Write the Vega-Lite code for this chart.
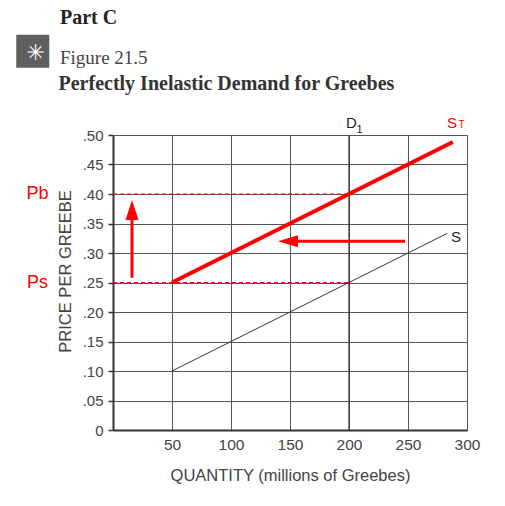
{
  "$schema": "https://vega.github.io/schema/vega-lite/v6.json",
  "width": 354,
  "height": 295,
  "autosize": {"type": "none"},
  "padding": {"left": 113, "top": 135, "right": 38, "bottom": 76},
  "background": "white",
  "title": {
    "text": "Part C",
    "subtitle": "Figure 21.5",
    "anchor": "start",
    "frame": "group",
    "orient": "top",
    "font": "Liberation Serif",
    "fontSize": 20,
    "fontWeight": "bold",
    "color": "#222222",
    "subtitleFont": "Liberation Serif",
    "subtitleFontSize": 19,
    "subtitleFontWeight": "normal",
    "subtitleColor": "#444444",
    "subtitlePadding": 21,
    "offset": -33,
    "dx": -53
  },
  "datasets": {
    "curves": [
      {"series": "S", "q": 50, "p": 0.10},
      {"series": "S", "q": 283, "p": 0.333},
      {"series": "ST", "q": 50, "p": 0.25},
      {"series": "ST", "q": 288, "p": 0.488}
    ],
    "demand": [{"q": 200}],
    "prices": [
      {"name": "Pb", "q": 0, "q2": 200, "p": 0.40},
      {"name": "Ps", "q": 0, "q2": 200, "p": 0.25}
    ],
    "arrows": [
      {"dir": "left", "q": 247.5, "q2": 152, "p": 0.32, "p2": 0.32},
      {"dir": "up", "q": 16.1, "q2": 16.1, "p": 0.258, "p2": 0.36}
    ],
    "heads": [
      {"dir": "left", "q": 148.3, "p": 0.32},
      {"dir": "up", "q": 16.1, "p": 0.373}
    ],
    "labels": [
      {"text": "D", "q": 202, "p": 0.512, "kind": "black"},
      {"text": "1", "q": 209, "p": 0.5034, "kind": "blackSub"},
      {"text": "S", "q": 290.7, "p": 0.3186, "kind": "black"},
      {"text": "S", "q": 287.3, "p": 0.512, "kind": "red"},
      {"text": "T", "q": 295.3, "p": 0.512, "kind": "redSub"},
      {"text": "Pb", "q": -64, "p": 0.40, "kind": "redBig"},
      {"text": "Ps", "q": -64, "p": 0.25, "kind": "redBig"}
    ],
    "icon": [{"q": -68, "p": 0.642}]
  },
  "resolve": {"axis": {"x": "independent"}},
  "layer": [
    {
      "data": {"name": "curves"},
      "transform": [{"filter": "datum.series == 'S'"}],
      "mark": {"type": "line", "color": "#333333", "strokeWidth": 1},
      "encoding": {
        "x": {
          "field": "q", "type": "quantitative",
          "scale": {"domain": [0, 300], "nice": false, "zero": false},
          "axis": {
            "orient": "bottom",
            "title": "QUANTITY (millions of Greebes)",
            "values": [0, 50, 100, 150, 200, 250, 300],
            "tickCount": 7,
            "labelExpr": "datum.value == 0 ? '' : datum.label",
            "grid": true,
            "ticks": false,
            "labelPadding": 7,
            "labelFontSize": 15.5,
            "titleFontSize": 16.5,
            "titlePadding": 15
          }
        },
        "y": {
          "field": "p", "type": "quantitative",
          "scale": {"domain": [0, 0.5], "nice": false, "zero": false},
          "axis": {
            "title": "PRICE PER GREEBE",
            "values": [0, 0.05, 0.1, 0.15, 0.2, 0.25, 0.3, 0.35, 0.4, 0.45, 0.5],
            "tickCount": 11,
            "labelExpr": "datum.value == 0 ? '0' : replace(format(datum.value, '.2f'), '0.', '.')",
            "grid": true,
            "ticks": true,
            "tickSize": 5,
            "labelPadding": 5,
            "labelFontSize": 15,
            "titleFontSize": 16.5,
            "titlePadding": 9,
            "titleY": 136
          }
        }
      }
    },
    {
      "data": {"name": "demand"},
      "mark": {"type": "rule", "color": "#333333", "strokeWidth": 1.2},
      "encoding": {
        "x": {
          "field": "q", "type": "quantitative",
          "axis": {
            "orient": "top",
            "title": "Perfectly Inelastic Demand for Greebes",
            "labels": false,
            "ticks": false,
            "domain": false,
            "grid": false,
            "titleFont": "Liberation Serif",
            "titleFontSize": 20,
            "titleFontWeight": "bold",
            "titleColor": "#333333",
            "titleAnchor": "start",
            "titleAlign": "left",
            "titleBaseline": "alphabetic",
            "titleX": -55,
            "titleY": -46
          }
        }
      }
    },
    {
      "data": {"name": "prices"},
      "mark": {"type": "rule", "color": "#ff0000", "strokeWidth": 1, "strokeDash": [4, 3]},
      "encoding": {
        "x": {"field": "q", "type": "quantitative", "axis": null},
        "x2": {"field": "q2"},
        "y": {"field": "p", "type": "quantitative"}
      }
    },
    {
      "data": {"name": "curves"},
      "transform": [{"filter": "datum.series == 'ST'"}],
      "mark": {"type": "line", "color": "#ff0000", "strokeWidth": 4, "strokeCap": "butt"},
      "encoding": {
        "x": {"field": "q", "type": "quantitative", "axis": null},
        "y": {"field": "p", "type": "quantitative"}
      }
    },
    {
      "data": {"name": "arrows"},
      "mark": {"type": "rule", "color": "#ff0000", "strokeWidth": 3},
      "encoding": {
        "x": {"field": "q", "type": "quantitative", "axis": null},
        "x2": {"field": "q2"},
        "y": {"field": "p", "type": "quantitative"},
        "y2": {"field": "p2"}
      }
    },
    {
      "data": {"name": "heads"},
      "transform": [{"filter": "datum.dir == 'left'"}],
      "mark": {"type": "point", "filled": true, "shape": "M-1,0L1,-0.6L1,0.6Z", "size": 400, "color": "#ff0000", "opacity": 1, "strokeWidth": 0},
      "encoding": {
        "x": {"field": "q", "type": "quantitative", "axis": null},
        "y": {"field": "p", "type": "quantitative"}
      }
    },
    {
      "data": {"name": "heads"},
      "transform": [{"filter": "datum.dir == 'up'"}],
      "mark": {"type": "point", "filled": true, "shape": "M0,-1L-0.65,1L0.65,1Z", "size": 400, "color": "#ff0000", "opacity": 1, "strokeWidth": 0},
      "encoding": {
        "x": {"field": "q", "type": "quantitative", "axis": null},
        "y": {"field": "p", "type": "quantitative"}
      }
    },
    {
      "data": {"name": "labels"},
      "transform": [{"filter": "datum.kind == 'black'"}],
      "mark": {"type": "text", "font": "Liberation Sans", "fontSize": 15, "color": "#222222", "align": "center", "baseline": "alphabetic"},
      "encoding": {
        "x": {"field": "q", "type": "quantitative", "axis": null},
        "y": {"field": "p", "type": "quantitative"},
        "text": {"field": "text"}
      }
    },
    {
      "data": {"name": "labels"},
      "transform": [{"filter": "datum.kind == 'blackSub'"}],
      "mark": {"type": "text", "font": "Liberation Sans", "fontSize": 11, "color": "#222222", "align": "center", "baseline": "alphabetic"},
      "encoding": {
        "x": {"field": "q", "type": "quantitative", "axis": null},
        "y": {"field": "p", "type": "quantitative"},
        "text": {"field": "text"}
      }
    },
    {
      "data": {"name": "labels"},
      "transform": [{"filter": "datum.kind == 'red'"}],
      "mark": {"type": "text", "font": "Liberation Sans", "fontSize": 15, "color": "#ff0000", "align": "center", "baseline": "alphabetic"},
      "encoding": {
        "x": {"field": "q", "type": "quantitative", "axis": null},
        "y": {"field": "p", "type": "quantitative"},
        "text": {"field": "text"}
      }
    },
    {
      "data": {"name": "labels"},
      "transform": [{"filter": "datum.kind == 'redSub'"}],
      "mark": {"type": "text", "font": "Liberation Sans", "fontSize": 10, "color": "#ff0000", "align": "center", "baseline": "alphabetic"},
      "encoding": {
        "x": {"field": "q", "type": "quantitative", "axis": null},
        "y": {"field": "p", "type": "quantitative"},
        "text": {"field": "text"}
      }
    },
    {
      "data": {"name": "labels"},
      "transform": [{"filter": "datum.kind == 'redBig'"}],
      "mark": {"type": "text", "font": "Liberation Sans", "fontSize": 18, "color": "#ff0000", "align": "center", "baseline": "middle"},
      "encoding": {
        "x": {"field": "q", "type": "quantitative", "axis": null},
        "y": {"field": "p", "type": "quantitative"},
        "text": {"field": "text"}
      }
    },
    {
      "data": {"name": "icon"},
      "mark": {"type": "square", "size": 1089, "color": "#5f5f5f", "opacity": 1},
      "encoding": {
        "x": {"field": "q", "type": "quantitative", "axis": null},
        "y": {"field": "p", "type": "quantitative"}
      }
    },
    {
      "data": {"name": "icon"},
      "mark": {"type": "text", "text": "✳", "font": "DejaVu Sans", "fontSize": 22, "color": "#ffffff", "align": "center", "baseline": "middle", "dx": 3, "dy": 2},
      "encoding": {
        "x": {"field": "q", "type": "quantitative", "axis": null},
        "y": {"field": "p", "type": "quantitative"}
      }
    }
  ],
  "config": {
    "view": {"stroke": null},
    "axis": {
      "domainColor": "#333333",
      "domainWidth": 2,
      "gridColor": "#555555",
      "gridWidth": 1,
      "gridOpacity": 1,
      "tickColor": "#333333",
      "tickWidth": 1.5,
      "labelFont": "Liberation Sans",
      "labelColor": "#444444",
      "labelFlush": false,
      "labelOverlap": false,
      "titleFont": "Liberation Sans",
      "titleFontSize": 16,
      "titleFontWeight": "normal",
      "titleColor": "#444444"
    }
  }
}
